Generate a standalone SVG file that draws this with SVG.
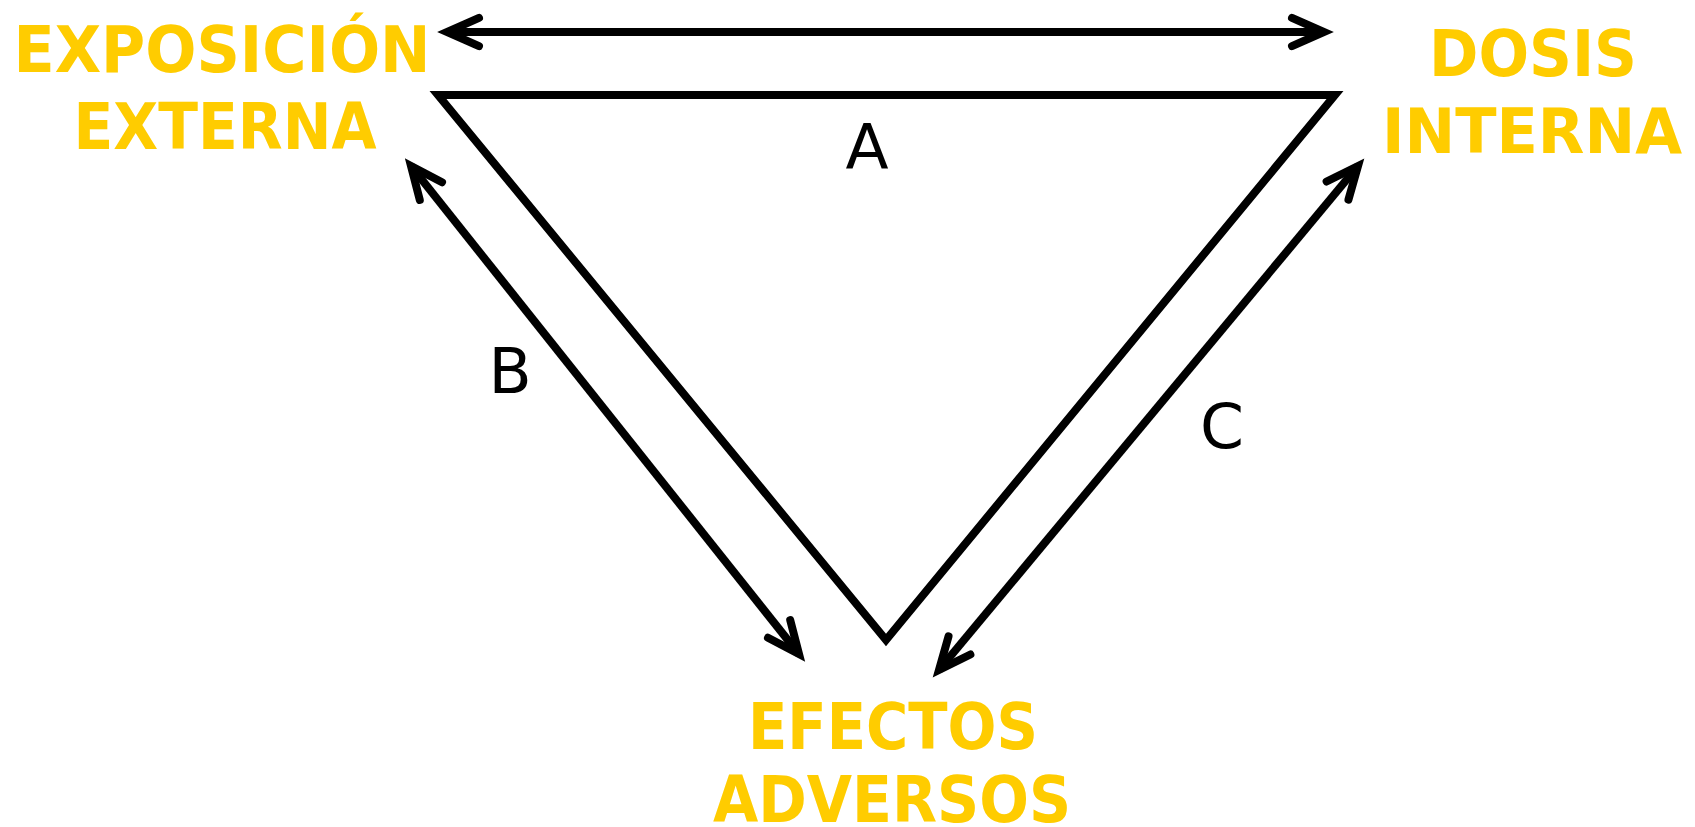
<svg xmlns="http://www.w3.org/2000/svg" width="1695" height="827" viewBox="0 0 1695 827">
<style>
.title{font-family:"DejaVu Sans","Verdana",sans-serif;font-weight:bold;font-size:64px;fill:#FFCC00;text-anchor:middle}
.lbl{font-family:"DejaVu Sans",sans-serif;font-size:63px;fill:#000;text-anchor:middle}
.ln{fill:none;stroke:#000;stroke-width:8}
</style>
<defs>
<marker id="chev" markerUnits="userSpaceOnUse" orient="auto-start-reverse" refX="0" refY="0" markerWidth="60" markerHeight="60" overflow="visible">
<path d="M-32,-14.2 L0,0 L-32,14.2" fill="none" stroke="#000" stroke-width="8" stroke-linecap="round" stroke-linejoin="miter"/>
</marker>
</defs>
<rect width="1695" height="827" fill="#fff"/>
<g id="connectors">
<polygon class="ln" points="438,95 1335,95 886,640" stroke-linejoin="miter"/>
<line class="ln" x1="447" y1="32" x2="1324" y2="32" marker-start="url(#chev)" marker-end="url(#chev)"/>
<line class="ln" x1="411" y1="166" x2="799" y2="654" marker-start="url(#chev)" marker-end="url(#chev)"/>
<line class="ln" x1="939" y1="670" x2="1358" y2="166" marker-start="url(#chev)" marker-end="url(#chev)"/>
<text class="lbl" x="867" y="169">A</text>
<text class="lbl" x="510" y="393">B</text>
<text class="lbl" x="1222" y="448">C</text>
</g>
<g id="exposicion">
<text class="title" x="222" y="72" textLength="417" lengthAdjust="spacingAndGlyphs">EXPOSICIÓN</text>
<text class="title" x="225" y="149" textLength="303" lengthAdjust="spacingAndGlyphs">EXTERNA</text>
</g>
<g id="dosis">
<text class="title" x="1533" y="76" textLength="208" lengthAdjust="spacingAndGlyphs">DOSIS</text>
<text class="title" x="1532" y="153" style="font-size:62px" textLength="300" lengthAdjust="spacingAndGlyphs">INTERNA</text>
</g>
<g id="efectos">
<text class="title" x="893" y="749" textLength="290" lengthAdjust="spacingAndGlyphs">EFECTOS</text>
<text class="title" x="892" y="822" textLength="358" lengthAdjust="spacingAndGlyphs">ADVERSOS</text>
</g>
</svg>
